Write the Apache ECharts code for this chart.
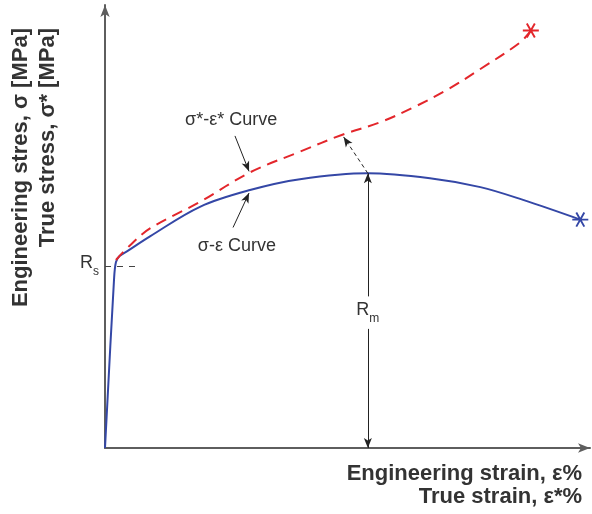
<!DOCTYPE html>
<html>
<head>
<meta charset="utf-8">
<script src="https://cdn.jsdelivr.net/npm/echarts@6/dist/echarts.min.js"></script>
<style>
  html, body { margin: 0; padding: 0; background: #fff; }
  #main { width: 592px; height: 514px; }
</style>
</head>
<body>
<div id="main"></div>
<script>
// engineering curve (sigma-epsilon), strain in %, stress in MPa
var engStrain = [0, 0.93, 1.13, 1.5, 2.3, 4.64, 9.79, 14.95, 20.1, 27.1, 33.5, 38.7, 43.1, 49.0];
var engStress = [0, 171, 189, 195, 200, 215, 245, 262, 273, 279, 274, 265, 252, 232];
// true curve (sigma*-epsilon*)
var trueStrain = [1.13, 2.27, 4.64, 9.79, 14.95, 20.1, 24.4, 28.4, 31.8, 35.3, 38.7, 42.8, 43.9];
var trueStress = [191, 203, 223, 250, 280, 301, 318, 331, 346, 364, 385, 412, 424];

var yieldStress = 185;     // Rs
var ultStrain = 27.1;      // strain at Rm
var ultStress = 279;       // Rm
var ultTrueStrain = 24.6;
var ultTrueStress = 316;

var font = '"Liberation Sans", Arial, sans-serif';
var txt = '#333';

function pairs(xs, ys) {
  return xs.map(function (x, i) { return [x, ys[i]]; });
}

// asterisk made of three bars
var star = 'path://M-10,-1.2L10,-1.2L10,1.2L-10,1.2Z' +
  'M-3.96,-9.26L6.04,8.06L3.96,9.26L-6.04,-8.06Z' +
  'M6.04,-8.06L-3.96,9.26L-6.04,8.06L3.96,-9.26Z';

var subRich = {
  r: { fontSize: 18, color: txt, fontFamily: font, lineHeight: 20, verticalAlign: 'top' },
  s: { fontSize: 12, color: txt, fontFamily: font, lineHeight: 24, verticalAlign: 'bottom' }
};

var arrowLine = { color: '#222', width: 1, type: 'solid' };

var chart = echarts.init(document.getElementById('main'));
chart.setOption({
  animation: false,
  backgroundColor: '#fff',
  grid: { left: 105, right: 2, top: 5, bottom: 66 },
  xAxis: {
    type: 'value', min: 0, max: 50,
    axisLine: { onZero: false, symbol: ['none', 'arrow'], symbolSize: [7, 12],
      lineStyle: { color: '#5e5e5e', width: 2 } },
    axisTick: { show: false }, axisLabel: { show: false }, splitLine: { show: false }
  },
  yAxis: {
    type: 'value', min: 0, max: 450,
    axisLine: { onZero: false, symbol: ['none', 'arrow'], symbolSize: [7, 12],
      lineStyle: { color: '#5e5e5e', width: 2 } },
    axisTick: { show: false }, axisLabel: { show: false }, splitLine: { show: false }
  },
  graphic: [
    { type: 'text', x: 21, y: 28, rotation: Math.PI / 2,
      style: { text: 'Engineering stres, σ [MPa]', align: 'right', verticalAlign: 'middle',
        font: 'bold 22px ' + font, fill: txt } },
    { type: 'text', x: 48, y: 28, rotation: Math.PI / 2,
      style: { text: 'True stress, σ* [MPa]', align: 'right', verticalAlign: 'middle',
        font: 'bold 22px ' + font, fill: txt } },
    { type: 'text', x: 582, y: 474,
      style: { text: 'Engineering strain, ε%', align: 'right', verticalAlign: 'middle',
        font: 'bold 22px ' + font, fill: txt } },
    { type: 'text', x: 582, y: 497,
      style: { text: 'True strain, ε*%', align: 'right', verticalAlign: 'middle',
        font: 'bold 22px ' + font, fill: txt } }
  ],
  series: [
    {
      name: 'σ-ε', type: 'line', data: pairs(engStrain, engStress),
      smooth: 0.35,
      showSymbol: false, symbol: 'none',
      lineStyle: { color: '#3447a6', width: 2 },
      markPoint: {
        data: [
          { coord: [engStrain[engStrain.length - 1], engStress[engStress.length - 1]],
            symbol: star, symbolSize: [16, 15], itemStyle: { color: '#3447a6' }, label: { show: false } },
          { coord: [ultStrain, 137], symbol: 'circle', symbolSize: 0,
            label: { show: true, position: 'inside', formatter: '{r|R}{s|m}', rich: subRich } },
          { coord: [13.0, 333], symbol: 'circle', symbolSize: 0,
            label: { show: true, position: 'inside', formatter: 'σ*-ε* Curve',
              fontSize: 18, color: txt, fontFamily: font } },
          { coord: [13.6, 205], symbol: 'circle', symbolSize: 0,
            label: { show: true, position: 'inside', formatter: 'σ-ε Curve',
              fontSize: 18, color: txt, fontFamily: font } }
        ]
      },
      markLine: {
        silent: true,
        symbol: ['none', 'arrow'],
        symbolSize: [6, 10],
        label: { show: false },
        data: [
          // Rs dashed guide
          [{ coord: [0, yieldStress], symbol: 'none',
             lineStyle: { color: '#444', width: 1, type: [6, 6] },
             label: { show: true, position: 'start', distance: 6, formatter: '{r|R}{s|s}', rich: subRich } },
           { coord: [3.4, yieldStress], symbol: 'none' }],
          // Rm upper part
          [{ coord: [ultStrain, 154], lineStyle: arrowLine }, { coord: [ultStrain, ultStress] }],
          // Rm lower part
          [{ coord: [ultStrain, 121], lineStyle: arrowLine }, { coord: [ultStrain, 0] }],
          // Rm to true stress
          [{ coord: [ultStrain, ultStress], lineStyle: { color: '#222', width: 1, type: [4, 3] } },
           { coord: [ultTrueStrain, ultTrueStress] }],
          // labels' pointers
          [{ coord: [13.4, 317], lineStyle: arrowLine }, { coord: [14.85, 281] }],
          [{ coord: [13.2, 224], lineStyle: arrowLine }, { coord: [14.85, 259] }]
        ]
      }
    },
    {
      name: 'σ*-ε*', type: 'line', data: pairs(trueStrain, trueStress),
      smooth: 0.35,
      showSymbol: false, symbol: 'none',
      lineStyle: { color: '#e3262b', width: 2, type: [11, 7] },
      markPoint: {
        data: [
          { coord: [trueStrain[trueStrain.length - 1], trueStress[trueStress.length - 1]],
            symbol: star, symbolSize: [16, 15], itemStyle: { color: '#e3262b' }, label: { show: false } }
        ]
      }
    }
  ]
});
</script>
</body>
</html>
